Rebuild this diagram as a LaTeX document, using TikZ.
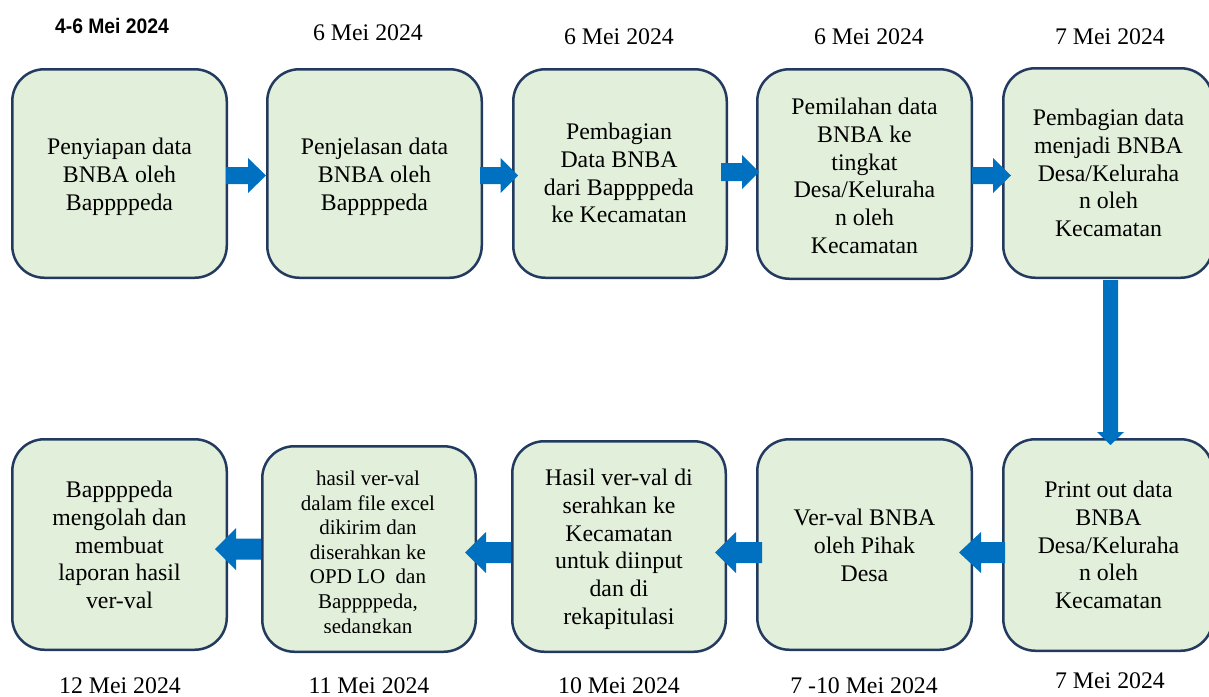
\documentclass[tikz,border=0pt]{standalone}
\usepackage{fontspec}
\setmainfont{Liberation Serif}
\newfontfamily\datesans{Liberation Sans}
\usetikzlibrary{calc}
\definecolor{boxfill}{RGB}{226,239,218}
\definecolor{boxline}{RGB}{34,58,96}
\definecolor{arrowc}{RGB}{0,112,192}
\newcommand\rarrow[5]{\fill[arrowc] let \p1=(#1), \p2=(#2) in
  (\x1,\y1+#3) -- (\x2-#5,\y1+#3) -- (\x2-#5,\y1+#4) -- (\x2,\y1) -- (\x2-#5,\y1-#4) -- (\x2-#5,\y1-#3) -- (\x1,\y1-#3) -- cycle;}
\newcommand\larrow[5]{\fill[arrowc] let \p1=(#1), \p2=(#2) in
  (\x1,\y1+#3) -- (\x2+#5,\y1+#3) -- (\x2+#5,\y1+#4) -- (\x2,\y1) -- (\x2+#5,\y1-#4) -- (\x2+#5,\y1-#3) -- (\x1,\y1-#3) -- cycle;}
\newcommand\darrow[5]{\fill[arrowc] let \p1=(#1), \p2=(#2) in
  (\x1+#3,\y1) -- (\x1+#3,\y2+#5) -- (\x1+#4,\y2+#5) -- (\x1,\y2) -- (\x1-#4,\y2+#5) -- (\x1-#3,\y2+#5) -- (\x1-#3,\y1) -- cycle;}
\tikzset{
  stepbox/.style={draw=boxline, fill=boxfill, line width=2.5pt, rounded corners=32pt, inner sep=0pt, outer sep=0pt},
  boxtext/.style={font=\fontsize{23.8}{27.8}\selectfont, align=center, inner sep=0pt, anchor=north},
  smalltext/.style={font=\fontsize{21}{24.6}\selectfont, align=center, inner sep=0pt, anchor=north},
  datetext/.style={font=\fontsize{23.8}{27.8}\selectfont, inner sep=0pt, anchor=base}
}
\begin{document}
\begin{tikzpicture}[x=1pt,y=-1pt]
\useasboundingbox (0,0) rectangle (1209,696);
\fill[white] (0,0) rectangle (1209,696);
% boxes
\node[stepbox, minimum width=214.5pt, minimum height=208.5pt] (b1) at (119.5,173.5) {};
\node[stepbox, minimum width=214.5pt, minimum height=208.5pt] (b2) at (374.5,173.5) {};
\node[stepbox, minimum width=213.5pt, minimum height=208.5pt] (b3) at (620,173.5) {};
\node[stepbox, minimum width=214.5pt, minimum height=209.5pt] (b4) at (864.5,174) {};
\node[stepbox, minimum width=209.5pt, minimum height=209.5pt] (b5) at (1108,173) {};
\node[stepbox, minimum width=214.5pt, minimum height=210.5pt] (b6) at (119.5,544.5) {};
\node[stepbox, minimum width=213.5pt, minimum height=205.5pt] (b7) at (369,549) {};
\node[stepbox, minimum width=213.5pt, minimum height=210.5pt] (b8) at (619,546.5) {};
\node[stepbox, minimum width=214.5pt, minimum height=210.5pt] (b9) at (864.5,544.5) {};
\node[stepbox, minimum width=209.5pt, minimum height=211.5pt] (b10) at (1108,545) {};
% arrow end points
\coordinate (a1s) at (226,175.5); \coordinate (a1t) at (266,175.5);
\coordinate (a2s) at (480,175.5); \coordinate (a2t) at (518,175.5);
\coordinate (a3s) at (721,172);   \coordinate (a3t) at (759,172);
\coordinate (a4s) at (972,175.5); \coordinate (a4t) at (1011,175.5);
\coordinate (v1s) at (1110.5,280); \coordinate (v1t) at (1110.5,445);
\coordinate (a5s) at (1005,552.5); \coordinate (a5t) at (959,552.5);
\coordinate (a6s) at (762,552.5);  \coordinate (a6t) at (715,552.5);
\coordinate (a7s) at (511,552.5);  \coordinate (a7t) at (465,552.5);
\coordinate (a8s) at (261,549);    \coordinate (a8t) at (215,549);
% arrows
\rarrow{a1s}{a1t}{8.5pt}{17.5pt}{18pt}
\rarrow{a2s}{a2t}{8.5pt}{17.5pt}{17.5pt}
\rarrow{a3s}{a3t}{9pt}{17pt}{17pt}
\rarrow{a4s}{a4t}{8.5pt}{17.5pt}{18pt}
\darrow{v1s}{v1t}{7.5pt}{13.5pt}{13pt}
\larrow{a5s}{a5t}{10.5pt}{20.5pt}{22pt}
\larrow{a6s}{a6t}{10.5pt}{20.5pt}{21pt}
\larrow{a7s}{a7t}{10.5pt}{20.5pt}{21pt}
\larrow{a8s}{a8t}{10.5pt}{21pt}{21pt}
% box texts
\node[boxtext] (t1) at (119.5,137.8) {Penyiapan data\\BNBA oleh\\Bappppeda};
\node[boxtext] (t2) at (374.5,137.8) {Penjelasan data\\BNBA oleh\\Bappppeda};
\node[boxtext] (t3) at (619,122.8) {Pembagian\\Data BNBA\\dari Bappppeda\\ke Kecamatan};
\node[boxtext] (t4) at (864.5,97.8) {Pemilahan data\\BNBA ke\\tingkat\\Desa/Keluraha\\n oleh\\Kecamatan};
\node[boxtext] (t5) at (1108.5,108.8) {Pembagian data\\menjadi BNBA\\Desa/Keluraha\\n oleh\\Kecamatan};
\node[boxtext] (t6) at (119.5,480.8) {Bappppeda\\mengolah dan\\membuat\\laporan hasil\\ver-val};
\begin{scope}
\clip (262,447) rectangle (476,632);
\node[smalltext] (t7) at (368,470.7) {hasil ver-val\\dalam file excel\\dikirim dan\\diserahkan ke\\OPD LO\ \ dan\\Bappppeda,\\sedangkan};
\end{scope}
\node[boxtext] (t8) at (619,468.8) {Hasil ver-val di\\serahkan ke\\Kecamatan\\untuk diinput\\dan di\\rekapitulasi};
\node[boxtext] (t9) at (864.5,508.8) {Ver-val BNBA\\oleh Pihak\\Desa};
\node[boxtext] (t10) at (1108.5,480.8) {Print out data\\BNBA\\Desa/Keluraha\\n oleh\\Kecamatan};
% dates
\node[inner sep=0pt, anchor=base, font=\datesans\bfseries\fontsize{21}{24}\selectfont] (d1) at (112,33) {\scalebox{0.92}[1]{4-6 Mei 2024}};
\node[datetext] (d2) at (368,40) {6 Mei 2024};
\node[datetext] (d3) at (619,44) {6 Mei 2024};
\node[datetext] (d4) at (869,44) {6 Mei 2024};
\node[datetext] (d5) at (1110,44) {7 Mei 2024};
\node[datetext] (d6) at (120,693) {12 Mei 2024};
\node[datetext] (d7) at (369,693) {11 Mei 2024};
\node[datetext] (d8) at (619,693) {10 Mei 2024};
\node[datetext] (d9) at (864,693) {7 -10 Mei 2024};
\node[datetext] (d10) at (1110,688) {7 Mei 2024};
\end{tikzpicture}
\end{document}
